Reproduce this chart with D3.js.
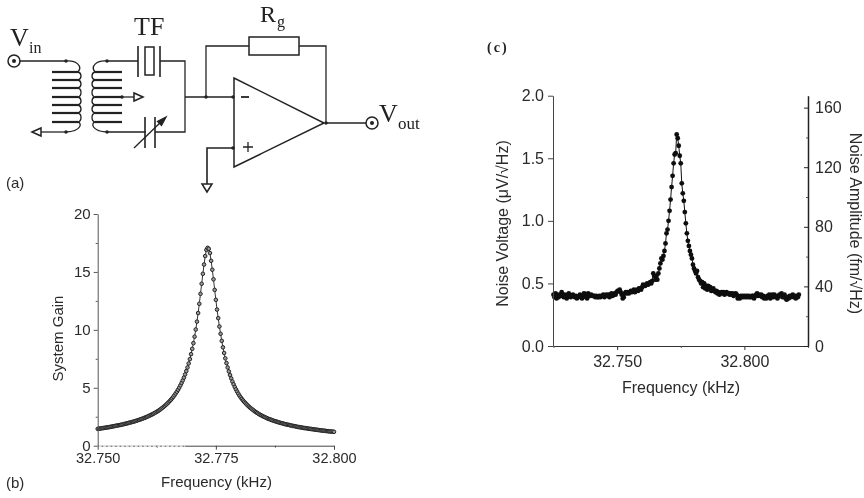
<!DOCTYPE html>
<html><head><meta charset="utf-8">
<script src="https://cdn.jsdelivr.net/npm/d3@7"></script>
<style>
html,body{margin:0;padding:0;background:#fff}
svg{display:block}
text{font-family:"Liberation Sans",Arial,sans-serif;fill:#2a2a2a}
.serif{font-family:"Liberation Serif","Times New Roman",serif;fill:#222}
</style></head><body>
<svg id="chart" width="864" height="498"></svg>
<script>
// ---------- panel (b) : system gain ----------
const gainFreq = [
32.75,32.75025,32.7505,32.75075,32.751,32.75125,32.7515,32.75175,32.752,32.75225,
32.7525,32.75275,32.753,32.75325,32.7535,32.75375,32.754,32.75425,32.7545,32.75475,
32.755,32.75525,32.7555,32.75575,32.756,32.75625,32.7565,32.75675,32.757,32.75725,
32.7575,32.75775,32.758,32.75825,32.7585,32.75875,32.759,32.75925,32.7595,32.75975,
32.76,32.76025,32.7605,32.76075,32.761,32.76125,32.7615,32.76175,32.762,32.76225,
32.7625,32.76275,32.763,32.76325,32.7635,32.76375,32.764,32.76425,32.7645,32.76475,
32.765,32.76525,32.7655,32.76575,32.766,32.76625,32.7665,32.76675,32.767,32.76725,
32.7675,32.76775,32.768,32.76825,32.7685,32.76875,32.769,32.76925,32.7695,32.76975,
32.77,32.77025,32.7705,32.77075,32.771,32.77125,32.7715,32.77175,32.772,32.77225,
32.7725,32.77275,32.773,32.77325,32.7735,32.77375,32.774,32.77425,32.7745,32.77475,
32.775,32.77525,32.7755,32.77575,32.776,32.77625,32.7765,32.77675,32.777,32.77725,
32.7775,32.77775,32.778,32.77825,32.7785,32.77875,32.779,32.77925,32.7795,32.77975,
32.78,32.78025,32.7805,32.78075,32.781,32.78125,32.7815,32.78175,32.782,32.78225,
32.7825,32.78275,32.783,32.78325,32.7835,32.78375,32.784,32.78425,32.7845,32.78475,
32.785,32.78525,32.7855,32.78575,32.786,32.78625,32.7865,32.78675,32.787,32.78725,
32.7875,32.78775,32.788,32.78825,32.7885,32.78875,32.789,32.78925,32.7895,32.78975,
32.79,32.79025,32.7905,32.79075,32.791,32.79125,32.7915,32.79175,32.792,32.79225,
32.7925,32.79275,32.793,32.79325,32.7935,32.79375,32.794,32.79425,32.7945,32.79475,
32.795,32.79525,32.7955,32.79575,32.796,32.79625,32.7965,32.79675,32.797,32.79725,
32.7975,32.79775,32.798,32.79825,32.7985,32.79875,32.799,32.79925,32.7995,32.79975,
32.8];
const gainValues = [
1.45,1.47,1.48,1.50,1.51,1.53,1.54,1.56,1.58,1.59,
1.61,1.63,1.65,1.67,1.69,1.71,1.73,1.75,1.77,1.79,
1.81,1.83,1.86,1.88,1.91,1.93,1.96,1.99,2.01,2.04,
2.07,2.10,2.13,2.16,2.20,2.23,2.27,2.30,2.34,2.38,
2.42,2.46,2.51,2.55,2.60,2.65,2.70,2.75,2.81,2.87,
2.93,2.99,3.06,3.13,3.21,3.29,3.37,3.46,3.55,3.65,
3.75,3.86,3.97,4.09,4.22,4.36,4.51,4.66,4.83,5.01,
5.21,5.42,5.64,5.88,6.15,6.44,6.75,7.10,7.47,7.90,
8.36,8.85,9.41,10.03,10.71,11.45,12.25,13.11,13.98,14.84,
15.64,16.37,16.90,17.08,17.00,16.63,15.96,15.19,14.36,13.45,
12.59,11.75,11.01,10.29,9.66,9.05,8.49,8.00,7.54,7.13,
6.75,6.41,6.10,5.81,5.54,5.30,5.07,4.86,4.67,4.49,
4.32,4.17,4.04,3.91,3.79,3.68,3.57,3.47,3.37,3.28,
3.20,3.12,3.04,2.96,2.89,2.83,2.76,2.70,2.64,2.59,
2.53,2.49,2.44,2.39,2.34,2.30,2.27,2.23,2.19,2.15,
2.12,2.09,2.06,2.02,1.99,1.96,1.94,1.91,1.88,1.85,
1.83,1.81,1.79,1.76,1.74,1.71,1.70,1.68,1.65,1.63,
1.61,1.60,1.58,1.56,1.54,1.52,1.52,1.50,1.48,1.46,
1.45,1.44,1.42,1.41,1.39,1.38,1.37,1.35,1.34,1.32,
1.31,1.30,1.29,1.27,1.26,1.25,1.24,1.23,1.22,1.21,
1.20];
const gainYTicks = [0,5,10,15,20];
const gainYMinor = [2.5,7.5,12.5,17.5];
const gainXTicks = [32.75,32.775,32.8];
const gainXMinor = [32.7625,32.7875];
const gainAxisFaded = [32.75,32.7685];

// ---------- panel (c) : thermal noise ----------
const noiseFreq = [
32.725,32.7254,32.7258,32.7262,32.7266,32.727,32.7274,32.7278,32.7282,32.7286,
32.729,32.7294,32.7298,32.7302,32.7306,32.731,32.7314,32.7318,32.7322,32.7326,
32.733,32.7334,32.7338,32.7342,32.7346,32.735,32.7354,32.7358,32.7362,32.7366,
32.737,32.7374,32.7378,32.7382,32.7386,32.739,32.7394,32.7398,32.7402,32.7406,
32.741,32.7414,32.7418,32.7422,32.7426,32.743,32.7434,32.7438,32.7442,32.7446,
32.745,32.7454,32.7458,32.7462,32.7466,32.747,32.7474,32.7478,32.7482,32.7486,
32.749,32.7494,32.7498,32.7502,32.7506,32.751,32.7514,32.7518,32.7522,32.7526,
32.753,32.7534,32.7538,32.7542,32.7546,32.755,32.7554,32.7558,32.7562,32.7566,
32.757,32.7574,32.7578,32.7582,32.7586,32.759,32.7594,32.7598,32.7602,32.7606,
32.761,32.7614,32.7618,32.7622,32.7626,32.763,32.7634,32.7638,32.7642,32.7646,
32.765,32.7654,32.7658,32.7662,32.7666,32.767,32.7674,32.7678,32.7682,32.7686,
32.769,32.7694,32.7698,32.7702,32.7706,32.771,32.7714,32.7718,32.7722,32.7726,
32.773,32.7734,32.7738,32.7742,32.7746,32.775,32.7754,32.7758,32.7762,32.7766,
32.777,32.7774,32.7778,32.7782,32.7786,32.779,32.7794,32.7798,32.7802,32.7806,
32.781,32.7814,32.7818,32.7822,32.7826,32.783,32.7834,32.7838,32.7842,32.7846,
32.785,32.7854,32.7858,32.7862,32.7866,32.787,32.7874,32.7878,32.7882,32.7886,
32.789,32.7894,32.7898,32.7902,32.7906,32.791,32.7914,32.7918,32.7922,32.7926,
32.793,32.7934,32.7938,32.7942,32.7946,32.795,32.7954,32.7958,32.7962,32.7966,
32.797,32.7974,32.7978,32.7982,32.7986,32.799,32.7994,32.7998,32.8002,32.8006,
32.801,32.8014,32.8018,32.8022,32.8026,32.803,32.8034,32.8038,32.8042,32.8046,
32.805,32.8054,32.8058,32.8062,32.8066,32.807,32.8074,32.8078,32.8082,32.8086,
32.809,32.8094,32.8098,32.8102,32.8106,32.811,32.8114,32.8118,32.8122,32.8126,
32.813,32.8134,32.8138,32.8142,32.8146,32.815,32.8154,32.8158,32.8162,32.8166,
32.817,32.8174,32.8178,32.8182,32.8186,32.819,32.8194,32.8198,32.8202,32.8206,
32.821,32.8214];
const noiseValues = [
.41,.39,.42,.38,.41,.39,.40,.41,.43,.40,
.39,.41,.39,.38,.41,.42,.40,.39,.40,.41,
.40,.39,.40,.38,.39,.40,.41,.39,.38,.39,
.42,.40,.41,.38,.42,.41,.40,.41,.40,.40,
.40,.39,.40,.39,.39,.40,.39,.40,.40,.41,
.39,.40,.41,.40,.41,.39,.41,.42,.40,.41,
.42,.41,.43,.44,.44,.45,.43,.41,.38,.39,
.42,.43,.42,.43,.42,.43,.44,.43,.44,.45,
.43,.44,.45,.44,.46,.46,.45,.47,.49,.48,
.48,.49,.50,.49,.50,.51,.50,.52,.58,.56,
.53,.56,.53,.58,.62,.66,.70,.69,.72,.76,
.82,.90,.93,1.00,1.08,1.17,1.27,1.36,1.46,1.53,
1.54,1.69,1.66,1.60,1.52,1.46,1.30,1.22,1.16,1.07,
.98,.90,.84,.80,.76,.73,.70,.65,.62,.60,
.58,.60,.55,.53,.52,.50,.51,.47,.50,.46,
.48,.45,.48,.46,.47,.44,.45,.46,.44,.43,
.44,.42,.43,.41,.42,.43,.42,.43,.41,.42,
.43,.42,.42,.41,.42,.41,.42,.40,.41,.42,
.41,.38,.39,.38,.40,.39,.40,.39,.40,.39,
.40,.39,.40,.39,.39,.40,.40,.38,.40,.41,
.42,.40,.41,.40,.41,.39,.40,.38,.39,.38,
.40,.39,.41,.38,.40,.41,.39,.41,.40,.39,
.38,.40,.41,.40,.42,.39,.40,.41,.38,.37,
.39,.38,.40,.39,.40,.41,.39,.40,.38,.40,
.39,.41];
const noiseYTicks = [0,0.5,1,1.5,2];
const noiseXTicks = [32.75,32.8];
const noiseXMinor = [32.725,32.775,32.825];
const amplitudeTicks = [0,40,80,120,160];
const amplitudeMinor = [20,60,100,140];

// ---------- schematic ----------
const coilRows = [72,80,88,97,105,113,122];

const svg = d3.select("#chart");
const defs = svg.append("defs");
defs.append("filter").attr("id","scan").attr("x","-5%").attr("y","-5%").attr("width","110%").attr("height","110%")
  .append("feGaussianBlur").attr("stdDeviation",0.4);
const root = svg.append("g").attr("filter","url(#scan)");
const INK = "#222";

function styleAxis(g,color,w){
  g.selectAll("path.domain").attr("stroke",color).attr("stroke-width",w);
  g.selectAll(".tick line").attr("stroke",color).attr("stroke-width",1);
}
function minor(g,axisFn,scale,vals,size){
  const a = axisFn(scale).tickValues(vals).tickSize(size).tickFormat("");
  const m = g.append("g").call(a);
  m.select("path.domain").remove();
  m.selectAll(".tick line").attr("stroke","#555").attr("stroke-width",1);
}

// ---- panel (b)
(function(){
  const x = d3.scaleLinear().domain([32.75,32.8]).range([97.7,334]);
  const y = d3.scaleLinear().domain([0,20]).range([445.7,214]);
  const g = root.append("g");
  const pts = gainFreq.map((f,i)=>[f,gainValues[i]]);
  g.append("path").attr("d",d3.line().x(d=>x(d[0])).y(d=>y(d[1]))(pts))
    .attr("fill","none").attr("stroke","#333").attr("stroke-width",1);
  g.append("g").selectAll("circle").data(pts).join("circle")
    .attr("cx",d=>x(d[0])).attr("cy",d=>y(d[1])).attr("r",1.8)
    .attr("fill","#999").attr("stroke","#222").attr("stroke-width",1);

  const ax = g.append("g").attr("transform","translate(0,445.7)")
    .call(d3.axisBottom(x).tickValues(gainXTicks).tickFormat(d3.format(".3f")).tickSize(4).tickSizeOuter(0));
  styleAxis(ax,"#444",1);
  ax.selectAll("text").attr("font-size",14.5).attr("y",7).attr("fill","#2a2a2a");
  minor(ax,d3.axisBottom,x,gainXMinor,2);
  ax.append("line").attr("x1",x(gainAxisFaded[0])+1).attr("x2",x(gainAxisFaded[1]))
    .attr("y1",0.5).attr("y2",0.5).attr("stroke","#fff").attr("stroke-width",1.3).attr("stroke-dasharray","3 1.5");
  const ay = g.append("g").attr("transform","translate(97.7,0)")
    .call(d3.axisLeft(y).tickValues(gainYTicks).tickSize(4).tickSizeOuter(0));
  styleAxis(ay,"#555",1);
  ay.selectAll("text").attr("font-size",15).attr("x",-7).attr("fill","#2a2a2a");
  minor(ay,d3.axisLeft,y,gainYMinor,2);

  g.append("text").attr("x",216.5).attr("y",487).attr("text-anchor","middle").attr("font-size",15).text("Frequency (kHz)");
  g.append("text").attr("transform","translate(63,338.5) rotate(-90)").attr("text-anchor","middle").attr("font-size",15).text("System Gain");
})();

// ---- panel (c)
(function(){
  const x = d3.scaleLinear().domain([32.7248,32.825]).range([553,808]);
  const y = d3.scaleLinear().domain([0,2]).range([346,95.7]);
  const yr = d3.scaleLinear().domain([0,168]).range([346,95.7]);
  const g = root.append("g");
  const pts = noiseFreq.map((f,i)=>[f,noiseValues[i]]);
  g.append("path").attr("d",d3.line().x(d=>x(d[0])).y(d=>y(d[1]))(pts))
    .attr("fill","none").attr("stroke","#111").attr("stroke-width",1);
  g.append("g").selectAll("circle").data(pts).join("circle")
    .attr("cx",d=>x(d[0])).attr("cy",d=>y(d[1])).attr("r",2.4).attr("fill","#0c0c0c");

  const ax = g.append("g").attr("transform","translate(0,346)")
    .call(d3.axisBottom(x).tickValues(noiseXTicks).tickFormat(d3.format(".3f")).tickSize(4).tickSizeOuter(0));
  styleAxis(ax,"#333",1);
  ax.selectAll("text").attr("font-size",16).attr("y",10).attr("fill","#2a2a2a");
  minor(ax,d3.axisBottom,x,noiseXMinor,2);
  const ay = g.append("g").attr("transform","translate(553,0)")
    .call(d3.axisLeft(y).tickValues(noiseYTicks).tickFormat(d3.format(".1f")).tickSize(5).tickSizeOuter(0));
  styleAxis(ay,"#444",1);
  ay.selectAll("text").attr("font-size",16).attr("x",-9).attr("fill","#2a2a2a");
  const ar = g.append("g").attr("transform","translate(808,0)")
    .call(d3.axisLeft(yr).tickValues(amplitudeTicks).tickSize(4).tickSizeOuter(0));
  styleAxis(ar,"#222",1.5);
  ar.selectAll("text").attr("font-size",16).attr("text-anchor","start").attr("x",7).attr("fill","#2a2a2a");
  minor(ar,d3.axisLeft,yr,amplitudeMinor,2);

  g.append("text").attr("x",681).attr("y",393).attr("text-anchor","middle").attr("font-size",16).text("Frequency (kHz)");
  g.append("text").attr("transform","translate(508,223.5) rotate(-90)").attr("text-anchor","middle").attr("font-size",16)
    .text("Noise Voltage (\u03BCV/\u221AHz)");
  g.append("text").attr("transform","translate(850,223.5) rotate(90)").attr("text-anchor","middle").attr("font-size",16)
    .text("Noise Amplitude (fm/\u221AHz)");
})();

// ---- panel (a) schematic
(function(){
  const g = root.append("g").attr("fill","none").attr("stroke",INK).attr("stroke-width",1.3);
  const wire = d=>g.append("path").attr("d",d);
  const dot = (cx,cy,r=1.7)=>g.append("circle").attr("cx",cx).attr("cy",cy).attr("r",r).attr("fill",INK).attr("stroke","none");
  const tri = d=>g.append("path").attr("d",d).attr("fill","#fff").attr("stroke-width",1.5);

  // input
  g.append("circle").attr("cx",14).attr("cy",61).attr("r",6).attr("stroke-width",1.5).attr("fill","#fff");
  dot(14,61,2);
  wire("M20 61H66"); dot(66,61);
  wire("M66 132H41"); dot(66,132); tri("M32 132L41 128V136Z");

  // coils
  const lp = d3.path(); lp.moveTo(66,61); lp.bezierCurveTo(76,60,83,66,78,coilRows[0]);
  const rp = d3.path(); rp.moveTo(107,61); rp.bezierCurveTo(97,60,90,66,95,coilRows[0]);
  coilRows.forEach((r,i)=>{
    const next = i<coilRows.length-1 ? coilRows[i+1] : 132;
    const xEndL = i<coilRows.length-1 ? 78 : 66, xEndR = i<coilRows.length-1 ? 95 : 107;
    g.append("line").attr("x1",52).attr("x2",78).attr("y1",r).attr("y2",r).attr("stroke-width",2.2);
    g.append("line").attr("x1",95).attr("x2",122).attr("y1",r).attr("y2",r).attr("stroke-width",2.2);
    lp.moveTo(78,r); lp.bezierCurveTo(82,r+1,82,next-1,xEndL,next);
    rp.moveTo(95,r); rp.bezierCurveTo(91,r+1,91,next-1,xEndR,next);
  });
  wire(lp.toString()); wire(rp.toString());
  dot(107,61); dot(107,132);

  // centre tap
  wire("M122 97H134"); dot(122,97); tri("M143 97L134 93V101Z");

  // tuning fork
  wire("M107 61H138M160 61H185V132H155M107 132H146");
  g.append("line").attr("x1",138).attr("x2",138).attr("y1",46).attr("y2",77).attr("stroke-width",1.6);
  g.append("line").attr("x1",160).attr("x2",160).attr("y1",46).attr("y2",77).attr("stroke-width",1.6);
  g.append("rect").attr("x",145).attr("y",47).attr("width",9).attr("height",28).attr("stroke-width",1.5);

  // variable capacitor
  g.append("line").attr("x1",145).attr("x2",145).attr("y1",117).attr("y2",148).attr("stroke-width",1.6);
  g.append("line").attr("x1",155).attr("x2",155).attr("y1",117).attr("y2",148).attr("stroke-width",1.6);
  wire("M134 148L163 120");
  g.append("path").attr("d","M166 117L157.5 121.5L161.5 125.5Z").attr("fill",INK);

  // feedback + op amp
  wire("M185 97H233M206 97V46H249M299 46H326V123");
  dot(206,97); dot(233,97); dot(233,148);
  g.append("rect").attr("x",249).attr("y",37).attr("width",50).attr("height",18).attr("stroke-width",1.5);
  g.append("path").attr("d","M234 78V167L324 123Z").attr("stroke-width",1.5);
  wire("M326 123H366"); dot(326,123);
  g.append("circle").attr("cx",372).attr("cy",123).attr("r",6).attr("stroke-width",1.5).attr("fill","#fff");
  dot(372,123,2);
  wire("M241 97H249").attr("stroke-width",1.8);
  wire("M243 147H253M248 142V152").attr("stroke-width",1.3);
  wire("M233 148H207V184").attr("stroke-width",1.6);
  tri("M202 184H212L207 192Z");

  // labels
  const txt = (cls,x,y,s,t)=>root.append("text").attr("class",cls).attr("x",x).attr("y",y).attr("font-size",s).text(t);
  txt("serif",10,46,26,"V"); txt("serif",29,53,16,"in");
  txt("serif",134,35,26,"TF");
  txt("serif",260,21.5,24,"R"); txt("serif",277,27,16,"g");
  txt("serif",379,122,26,"V"); txt("serif",398,129,17,"out");
  txt("",6,188,15,"(a)");
  txt("",6,488,15,"(b)");
  txt("serif",487,52,14,"(c)").attr("font-weight","bold").attr("letter-spacing",2);
})();
</script>
</body></html>
